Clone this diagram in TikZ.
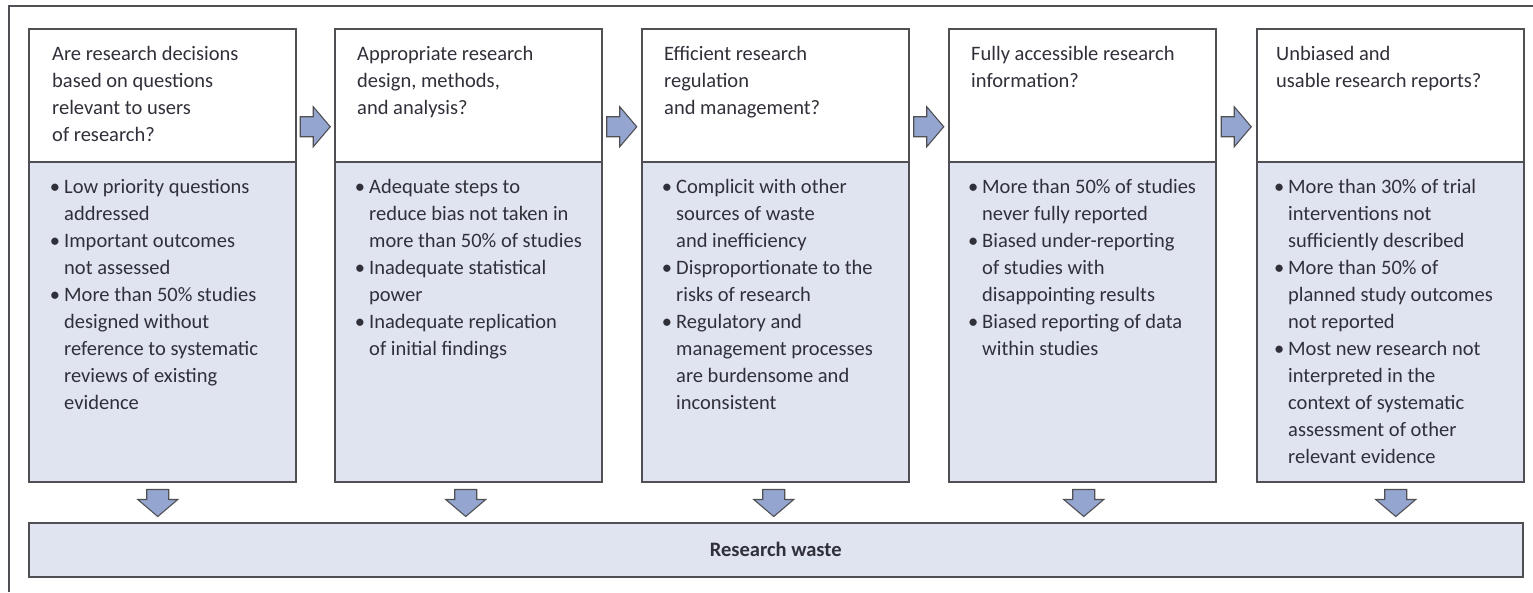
\documentclass[tikz,border=0pt]{standalone}
\usepackage{fontspec}
\setmainfont{Carlito}
\usetikzlibrary{calc}
\definecolor{txt}{RGB}{48,48,58}
\definecolor{edge}{RGB}{80,80,84}
\definecolor{lav}{RGB}{224,228,240}
\definecolor{arr}{RGB}{148,166,208}
\newcommand{\bl}{\llap{•\hspace{4pt}}}
\tikzset{
  topbox/.style={draw=edge, line width=1.5pt, fill=white, minimum width=267pt, minimum height=133pt, anchor=north west, inner sep=0pt},
  botbox/.style={draw=edge, line width=1.5pt, fill=lav, minimum width=267pt, minimum height=320pt, anchor=north west, inner sep=0pt},
  lbl/.style={anchor=base west, inner sep=0pt, text=txt, font=\fontsize{20.5}{27}\selectfont},
  blockarrow/.style={draw=edge, line width=1.1pt, fill=arr, line join=miter},
  frame/.style={draw=edge, line width=1.5pt}
}
\begin{document}
\begin{tikzpicture}[x=1pt,y=-1pt]
\useasboundingbox (0,0) rectangle (1533,592);
\draw[frame] (9,592) -- (9,6) -- (1533,6);
% boxes
\foreach \i/\x in {1/28,2/334,3/641,4/948,5/1256}{
  \node[topbox] (t\i) at (\x,28) {};
  \node[botbox] (b\i) at (\x,161) {};
}
% titles
\node[lbl] (q1) at ($(t1.north west)+(24,32)$) {\begin{tabular}[t]{@{}l@{}}Are research decisions\\based on questions\\relevant to users\\of research?\end{tabular}};
\node[lbl] (q2) at ($(t2.north west)+(23,32)$) {\begin{tabular}[t]{@{}l@{}}Appropriate research\\design, methods,\\and analysis?\end{tabular}};
\node[lbl] (q3) at ($(t3.north west)+(23,32)$) {\begin{tabular}[t]{@{}l@{}}Efficient research\\regulation\\and management?\end{tabular}};
\node[lbl] (q4) at ($(t4.north west)+(23,32)$) {\begin{tabular}[t]{@{}l@{}}Fully accessible research\\information?\end{tabular}};
\node[lbl] (q5) at ($(t5.north west)+(20,32)$) {\begin{tabular}[t]{@{}l@{}}Unbiased and\\usable research reports?\end{tabular}};
% bullets
\node[lbl] (p1) at ($(b1.north west)+(36,32)$) {\begin{tabular}[t]{@{}l@{}}\bl Low priority questions\\addressed\\\bl Important outcomes\\not assessed\\\bl More than 50\% studies\\designed without\\reference to systematic\\reviews of existing\\evidence\end{tabular}};
\node[lbl] (p2) at ($(b2.north west)+(35,32)$) {\begin{tabular}[t]{@{}l@{}}\bl Adequate steps to\\reduce bias not taken in\\more than 50\% of studies\\\bl Inadequate statistical\\power\\\bl Inadequate replication\\of initial findings\end{tabular}};
\node[lbl] (p3) at ($(b3.north west)+(35,32)$) {\begin{tabular}[t]{@{}l@{}}\bl Complicit with other\\sources of waste\\and inefficiency\\\bl Disproportionate to the\\risks of research\\\bl Regulatory and\\management processes\\are burdensome and\\inconsistent\end{tabular}};
\node[lbl] (p4) at ($(b4.north west)+(34,32)$) {\begin{tabular}[t]{@{}l@{}}\bl More than 50\% of studies\\never fully reported\\\bl Biased under-reporting\\of studies with\\disappointing results\\\bl Biased reporting of data\\within studies\end{tabular}};
\node[lbl] (p5) at ($(b5.north west)+(32,32)$) {\begin{tabular}[t]{@{}l@{}}\bl More than 30\% of trial\\interventions not\\sufficiently described\\\bl More than 50\% of\\planned study outcomes\\not reported\\\bl Most new research not\\interpreted in the\\context of systematic\\assessment of other\\relevant evidence\end{tabular}};
% research waste
\node[draw=edge, line width=1.5pt, fill=lav, minimum width=1494pt, minimum height=54pt, anchor=north west, inner sep=0pt, text=txt, font=\fontsize{20.5}{27}\selectfont\bfseries] (rw) at (28,522) {Research waste};
% right arrows
\foreach \a/\b in {1/2,2/3,3/4,4/5}{
  \coordinate (m\a) at ($(t\a.east)!0.5!(t\b.west)$);
  \draw[blockarrow, shift={($(m\a)+(0,31.5)$)}] (-15,-10) -- (-2,-10) -- (-2,-20) -- (15,0) -- (-2,20) -- (-2,10) -- (-15,10) -- cycle;
}
% down arrows
\foreach \i/\d in {1/-4.5,2/-2.5,3/-1.5,4/1.5,5/5.5}{
  \coordinate (d\i) at ($(b\i.south)+(\d,0)$);
  \draw[blockarrow, shift={(d\i)}] (-11,7) -- (11,7) -- (11,17) -- (20,17) -- (0,34) -- (-20,17) -- (-11,17) -- cycle;
}
\end{tikzpicture}
\end{document}
